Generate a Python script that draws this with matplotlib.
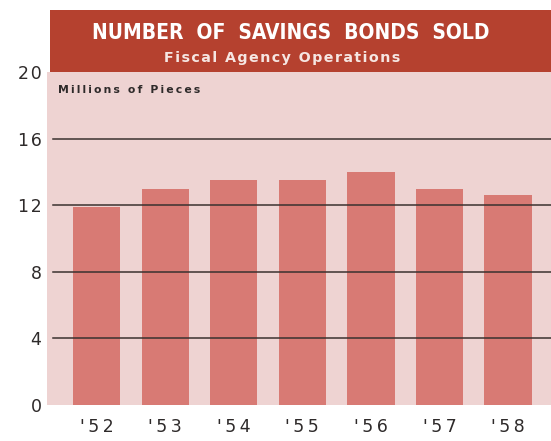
import matplotlib.pyplot as plt
from matplotlib.patches import Rectangle

# --- Data ---
years = ["'52", "'53", "'54", "'55", "'56", "'57", "'58"]
pieces = [11.9, 13.0, 13.5, 13.5, 14.0, 13.0, 12.6]  # millions of pieces
yticks = [0, 4, 8, 12, 16, 20]

header_red = "#b5412f"
panel_pink = "#eed3d2"
bar_red = "#d87a74"
ink = "#2e2a2a"


def spaced(s, gap="\u200a"):
    # loose letter tracking like the printed original
    return gap.join(s)


fig = plt.figure(figsize=(5.51, 4.41), dpi=100)
fig.patch.set_facecolor("white")

ax = fig.add_axes([47 / 551, 36 / 441, 504 / 551, 333 / 441])
ax.set_facecolor(panel_pink)

x = list(range(len(years)))
ax.bar(x, pieces, width=0.69, color=bar_red, zorder=2)

# horizontal rules drawn across the bars
for v in yticks[1:-1]:
    ax.axhline(v, xmin=0.012, xmax=1, color="#3a3230", linewidth=1.1, zorder=3)

ax.set_xlim(-0.726, 6.628)
ax.set_ylim(0, 20)
ax.set_yticks(yticks)
ax.set_yticklabels([spaced(str(v)) for v in yticks], fontsize=12.5, color=ink)
ax.set_xticks(x)
ax.set_xticklabels([spaced(y, "\u2009") for y in years], fontsize=12.5, color=ink)
ax.tick_params(axis="y", length=0, pad=4)
ax.tick_params(axis="x", length=0, pad=9)
for s in ax.spines.values():
    s.set_visible(False)

ax.text(0.022, 0.945, spaced("Millions of Pieces", "\u2009"),
        transform=ax.transAxes, fontsize=7.8, fontweight="bold", color=ink,
        ha="left", va="center")

# header band
fig.patches.append(Rectangle((50 / 551, 369 / 441), 501 / 551, 62 / 441,
                             transform=fig.transFigure, facecolor=header_red,
                             edgecolor="none", zorder=0))
fig.text(291 / 551, 408 / 441, "NUMBER  OF  SAVINGS  BONDS  SOLD",
         fontsize=15, fontweight="bold", fontstretch="condensed",
         color="white", ha="center", va="center")
fig.text(282 / 551, 383 / 441, spaced("Fiscal Agency Operations", "\u200a"),
         fontsize=10.3, fontweight="bold", color="#f6e6e2",
         ha="center", va="center")

fig.savefig("out.png", dpi=100, facecolor="white")
